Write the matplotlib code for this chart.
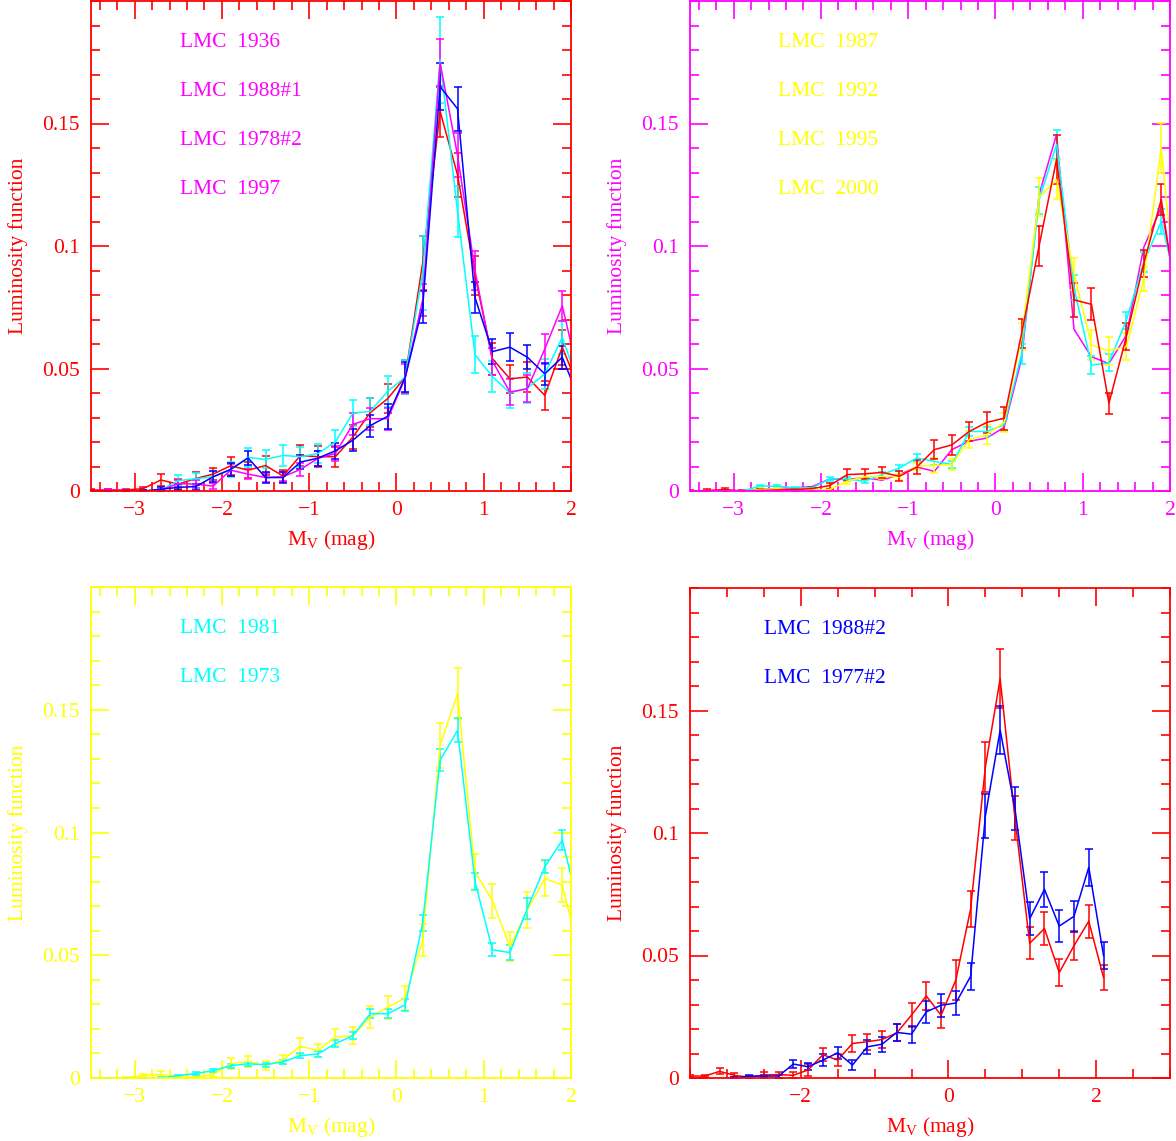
import numpy as np
import matplotlib
matplotlib.use("Agg")
import matplotlib.pyplot as plt
from matplotlib.ticker import MultipleLocator

plt.rcParams['font.family'] = ['Liberation Serif', 'DejaVu Serif']
plt.rcParams['mathtext.default'] = 'regular'

# magnitude bins (same for every series)
mag = [-3.5, -3.3, -3.1, -2.9, -2.7, -2.5, -2.3, -2.1, -1.9, -1.7, -1.5, -1.3, -1.1, -0.9, -0.7,
       -0.5, -0.3, -0.1, 0.1, 0.3, 0.5, 0.7, 0.9, 1.1, 1.3, 1.5, 1.7, 1.9, 2.1]

# panel 1 (top left)
p1_red = [0.0004, 0.0004, 0.0004, 0.001, 0.0045, 0.0028, 0.0051, 0.0069, 0.0103, 0.0085, 0.0104, 0.0061, 0.0145, 0.014, 0.014,
          0.022, 0.032, 0.0377, 0.0465, 0.093, 0.155, 0.129, 0.088, 0.054, 0.0458, 0.0465, 0.039, 0.0587, 0.041]
p1_red_err = [0.0004, 0.0004, 0.0004, 0.0008, 0.0026, 0.002, 0.0026, 0.0024, 0.0037, 0.0033, 0.0037, 0.0025, 0.0044, 0.0043, 0.004,
              0.005, 0.006, 0.006, 0.007, 0.011, 0.0105, 0.009, 0.008, 0.0065, 0.0058, 0.006, 0.0058, 0.0072, 0.006]
p1_mag = [0.0, 0.0004, 0.0002, 0.0, 0.0004, 0.003, 0.0028, 0.002, 0.0085, 0.0069, 0.0055, 0.0058, 0.0088, 0.0133, 0.0153,
          0.0272, 0.0295, 0.0295, 0.046, 0.078, 0.1748, 0.137, 0.09, 0.053, 0.0404, 0.0417, 0.058, 0.0756, 0.045]
p1_mag_err = [0.0003, 0.0004, 0.0003, 0.0003, 0.0005, 0.0015, 0.0015, 0.0012, 0.0025, 0.002, 0.0018, 0.0018, 0.0025, 0.003, 0.003,
              0.0045, 0.0045, 0.0045, 0.006, 0.0066, 0.0098, 0.009, 0.008, 0.0055, 0.0055, 0.0055, 0.006, 0.0062, 0.006]
p1_cyan = [0.0, 0.0, 0.0, 0.0, 0.0004, 0.0042, 0.005, 0.0058, 0.0088, 0.0137, 0.0129, 0.0145, 0.014, 0.0153, 0.02,
           0.0318, 0.0325, 0.0407, 0.0465, 0.089, 0.176, 0.114, 0.0556, 0.0467, 0.04, 0.042, 0.0478, 0.0627, 0.0425]
p1_cyan_err = [0.0003, 0.0003, 0.0003, 0.0003, 0.0005, 0.0022, 0.0025, 0.0025, 0.003, 0.0037, 0.0037, 0.0042, 0.004, 0.004, 0.0048,
               0.0054, 0.0055, 0.0064, 0.0068, 0.015, 0.0176, 0.0105, 0.0075, 0.0064, 0.006, 0.006, 0.006, 0.0068, 0.006]
p1_blue = [0.0, 0.0, 0.0, 0.0, 0.0007, 0.0015, 0.0018, 0.0058, 0.0088, 0.0135, 0.0055, 0.0055, 0.0118, 0.0134, 0.0164,
           0.0207, 0.0267, 0.0305, 0.0465, 0.075, 0.165, 0.156, 0.079, 0.0569, 0.0587, 0.0546, 0.0478, 0.0546, 0.037]
p1_blue_err = [0.0003, 0.0003, 0.0003, 0.0003, 0.0008, 0.0012, 0.0012, 0.0022, 0.0025, 0.003, 0.0022, 0.0022, 0.003, 0.003, 0.0032,
               0.0045, 0.0045, 0.005, 0.006, 0.0066, 0.0095, 0.009, 0.0064, 0.005, 0.0056, 0.005, 0.0045, 0.0047, 0.0045]
p1_names = ["LMC  1936", "LMC  1988#1", "LMC  1978#2", "LMC  1997"]

# panel 2 (top right)
p2_red = [0.0, 0.0002, 0.0006, 0.0, 0.0002, 0.0004, 0.0006, 0.001, 0.0022, 0.0067, 0.007, 0.0076, 0.006, 0.0098, 0.0169,
          0.0188, 0.0243, 0.028, 0.0297, 0.0644, 0.1, 0.1354, 0.078, 0.0762, 0.0358, 0.063, 0.093, 0.119, 0.071]
p2_red_err = [0.0003, 0.0005, 0.0007, 0.0003, 0.0005, 0.0006, 0.0007, 0.0008, 0.0012, 0.0023, 0.002, 0.0024, 0.002, 0.0028, 0.0039,
              0.004, 0.0039, 0.0043, 0.0046, 0.006, 0.008, 0.01, 0.007, 0.0066, 0.0043, 0.0055, 0.0055, 0.0062, 0.005]
p2_mag = [0.0, 0.0, 0.0, 0.0, 0.0007, 0.001, 0.0013, 0.0018, 0.0049, 0.0047, 0.0054, 0.0044, 0.0067, 0.0098, 0.008,
          0.0169, 0.0203, 0.0216, 0.026, 0.054, 0.121, 0.1455, 0.066, 0.0548, 0.052, 0.0636, 0.0995, 0.1158, 0.075]
p2_cyan = [0.0, 0.0, 0.0, 0.0, 0.002, 0.002, 0.0013, 0.0013, 0.0049, 0.0049, 0.004, 0.0067, 0.0094, 0.0135, 0.0121,
           0.0108, 0.0243, 0.0243, 0.027, 0.056, 0.1187, 0.1415, 0.083, 0.0514, 0.0523, 0.0697, 0.0934, 0.110, 0.08]
p2_cyan_err = [0.0, 0.0, 0.0, 0.0, 0.0005, 0.0005, 0.0004, 0.0004, 0.0008, 0.0008, 0.0008, 0.001, 0.0012, 0.0015, 0.0015,
               0.0015, 0.002, 0.002, 0.0025, 0.004, 0.0055, 0.006, 0.005, 0.0035, 0.0035, 0.0035, 0.004, 0.005, 0.004]
p2_yel = [0.0, 0.0, 0.0, 0.0, 0.0006, 0.0009, 0.0004, 0.0004, 0.0006, 0.004, 0.0058, 0.006, 0.0058, 0.0101, 0.0104,
          0.0108, 0.021, 0.023, 0.028, 0.063, 0.12, 0.127, 0.0887, 0.0596, 0.0572, 0.0589, 0.0866, 0.14, 0.067]
p2_yel_err = [0.0, 0.0, 0.0, 0.0, 0.0005, 0.0005, 0.0005, 0.0005, 0.0006, 0.001, 0.0012, 0.0012, 0.0012, 0.0015, 0.0029,
              0.0022, 0.0034, 0.0038, 0.004, 0.0056, 0.0078, 0.008, 0.0065, 0.006, 0.0058, 0.0055, 0.005, 0.01, 0.006]
p2_names = ["LMC  1987", "LMC  1992", "LMC  1995", "LMC  2000"]

# panel 3 (bottom left)
p3_yel = [0.0, 0.0, 0.0001, 0.0011, 0.0014, 0.0004, 0.0004, 0.0014, 0.0058, 0.0068, 0.005, 0.0075, 0.0129, 0.0112, 0.0167,
          0.0172, 0.0248, 0.0289, 0.0325, 0.0562, 0.1355, 0.1565, 0.084, 0.0722, 0.0535, 0.0684, 0.0813, 0.0786, 0.05]
p3_yel_err = [0.0, 0.0, 0.0003, 0.0007, 0.0015, 0.0005, 0.0005, 0.0008, 0.0022, 0.0023, 0.0018, 0.0018, 0.0035, 0.0027, 0.0034,
              0.0034, 0.0044, 0.0047, 0.005, 0.0066, 0.0091, 0.0104, 0.0071, 0.007, 0.0058, 0.0073, 0.007, 0.0069, 0.006]
p3_cyan = [0.0, 0.0, 0.0, 0.0, 0.0, 0.001, 0.0018, 0.003, 0.005, 0.0058, 0.0054, 0.0066, 0.0091, 0.0098, 0.014,
           0.0172, 0.0262, 0.0262, 0.0298, 0.063, 0.1294, 0.1416, 0.08, 0.0522, 0.0511, 0.0691, 0.086, 0.0969, 0.068]
p3_cyan_err = [0.0, 0.0, 0.0, 0.0, 0.0003, 0.0004, 0.0005, 0.0006, 0.0008, 0.0008, 0.0008, 0.0009, 0.001, 0.0011, 0.0013,
               0.0015, 0.0018, 0.0019, 0.0025, 0.0032, 0.0045, 0.0049, 0.0035, 0.0027, 0.0029, 0.0044, 0.0027, 0.0041, 0.004]
p3_names = ["LMC  1981", "LMC  1973"]

# panel 4 (bottom right)
p4_red = [0.0008, 0.0008, 0.0027, 0.0011, 0.0003, 0.0012, 0.0014, 0.0011, 0.0033, 0.0095, 0.0073, 0.0141, 0.0148, 0.0157, 0.0184,
          0.0257, 0.0335, 0.0256, 0.040, 0.069, 0.127, 0.163, 0.106, 0.055, 0.061, 0.043, 0.054, 0.064, 0.041]
p4_red_err = [0.0004, 0.0004, 0.0012, 0.0008, 0.0005, 0.0012, 0.0012, 0.0012, 0.0025, 0.0027, 0.0025, 0.0033, 0.0033, 0.0035, 0.0035,
              0.0049, 0.0058, 0.0052, 0.008, 0.0075, 0.0102, 0.012, 0.009, 0.0066, 0.0068, 0.0056, 0.006, 0.0067, 0.005]
p4_blue_mag = mag[3:]
p4_blue = [0.0, 0.0008, 0.0008, 0.0008, 0.0057, 0.0046, 0.0073, 0.0103, 0.0053, 0.0127, 0.0138, 0.0186, 0.0179,
           0.027, 0.0297, 0.0306, 0.0415, 0.107, 0.142, 0.110, 0.065, 0.077, 0.062, 0.066, 0.086, 0.05]
p4_blue_err = [0.0003, 0.0005, 0.0005, 0.0006, 0.0018, 0.0015, 0.0023, 0.0025, 0.002, 0.003, 0.003, 0.0035, 0.0035,
               0.0045, 0.0047, 0.0049, 0.0054, 0.009, 0.0099, 0.0086, 0.0068, 0.0072, 0.0064, 0.0064, 0.0075, 0.0054]
p4_names = ["LMC  1988#2", "LMC  1977#2"]

RED, MAG, CYAN, YEL, BLUE = "#ff0000", "#ff00ff", "#00ffff", "#ffff00", "#0000ff"
W, H = 1176, 1141
FS = 15.5

fig = plt.figure(figsize=(W / 100, H / 100), dpi=100)


def panel(box, col, xlim, xticks, xminor):
    l, t, r, b = box
    ax = fig.add_axes([l / W, 1 - b / H, (r - l) / W, (b - t) / H])
    ax.set_xlim(*xlim)
    ax.set_ylim(0, 0.2)
    for s in ax.spines.values():
        s.set_color(col)
        s.set_linewidth(1.3)
    ax.set_xticks(xticks)
    ax.set_xticklabels([str(v).replace("-", "\u2212") for v in xticks])
    ax.xaxis.set_minor_locator(MultipleLocator(xminor))
    ax.set_yticks([0, 0.05, 0.1, 0.15])
    ax.set_yticklabels(["0", "0.05", "0.1", "0.15"])
    ax.yaxis.set_minor_locator(MultipleLocator(0.01))
    ax.tick_params(which="both", direction="in", top=True, right=True,
                   colors=col, labelsize=FS, width=1.2)
    ax.tick_params(which="major", length=13)
    ax.tick_params(which="minor", length=6.5)
    ax.tick_params(axis="x", pad=7)
    ax.tick_params(axis="y", pad=8)
    ax.set_xlabel("M$_V$ (mag)", color=col, fontsize=FS, labelpad=6)
    ax.set_ylabel("Luminosity function", color=col, fontsize=FS, labelpad=10)
    return ax


def series(ax, x, y, e, col):
    if e is None:
        ax.plot(x, y, color=col, lw=1.1)
    else:
        ax.errorbar(x, y, yerr=e, color=col, lw=1.1, elinewidth=1.1,
                    capsize=3, capthick=1.1)


def names(ax, labels, col, x0):
    for i, s in enumerate(labels):
        ax.text(x0, 0.915 - 0.1 * i, s, color=col, fontsize=FS,
                transform=ax.transAxes, va="center", ha="left")


ax1 = panel((91, 1, 571, 491), RED, (-3.5, 2.0), [-3, -2, -1, 0, 1, 2], 0.2)
series(ax1, mag, p1_red, p1_red_err, RED)
series(ax1, mag, p1_cyan, p1_cyan_err, CYAN)
series(ax1, mag, p1_mag, p1_mag_err, MAG)
series(ax1, mag, p1_blue, p1_blue_err, BLUE)
names(ax1, p1_names, MAG, 0.185)

ax2 = panel((690, 1, 1170, 491), MAG, (-3.5, 2.0), [-3, -2, -1, 0, 1, 2], 0.2)
series(ax2, mag, p2_mag, None, MAG)
series(ax2, mag, p2_cyan, p2_cyan_err, CYAN)
series(ax2, mag, p2_yel, p2_yel_err, YEL)
series(ax2, mag, p2_red, p2_red_err, RED)
names(ax2, p2_names, YEL, 0.183)

ax3 = panel((91, 587, 571, 1078), YEL, (-3.5, 2.0), [-3, -2, -1, 0, 1, 2], 0.2)
series(ax3, mag, p3_yel, p3_yel_err, YEL)
series(ax3, mag, p3_cyan, p3_cyan_err, CYAN)
names(ax3, p3_names, CYAN, 0.185)

ax4 = panel((690, 588, 1170, 1078), RED, (-3.5, 3.0), [-2, 0, 2], 0.5)
series(ax4, mag, p4_red, p4_red_err, RED)
series(ax4, p4_blue_mag, p4_blue, p4_blue_err, BLUE)
names(ax4, p4_names, BLUE, 0.154)

fig.savefig("out.png", dpi=100)
